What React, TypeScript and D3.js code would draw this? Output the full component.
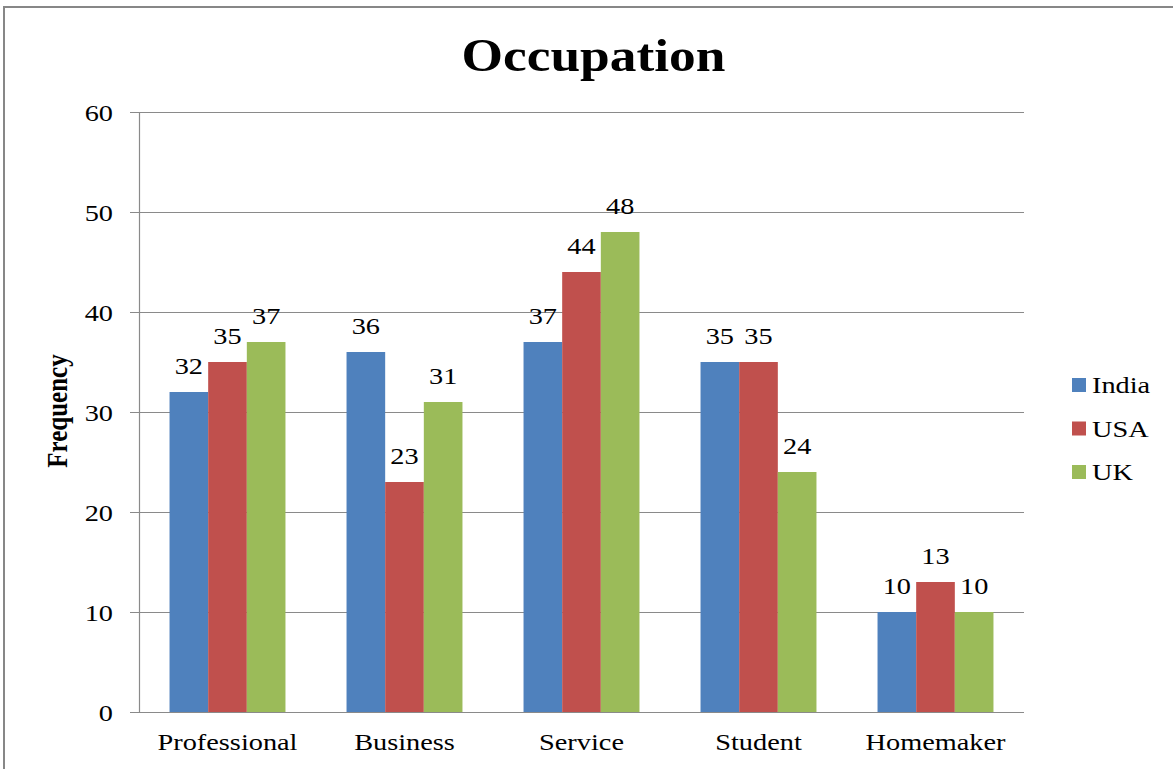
import React from "react";
import * as d3 from "d3";

const categories = ["Professional", "Business", "Service", "Student", "Homemaker"];
const seriesNames = ["India", "USA", "UK"];
const india = [32, 36, 37, 35, 10];
const usa = [35, 23, 44, 35, 13];
const uk = [37, 31, 48, 24, 10];
const yTicks = [0, 10, 20, 30, 40, 50, 60];
const colors = ["#4F81BD", "#C0504D", "#9BBB59"];
const title = "Occupation";
const yLabel = "Frequency";

const W = 1173;
const H = 769;
const SX = 1.18;
const FONT = "'Liberation Serif', 'Times New Roman', serif";

function T(props: {
  x: number;
  y: number;
  size: number;
  anchor?: string;
  bold?: boolean;
  rotate?: number;
  sx?: number;
  children: React.ReactNode;
}) {
  const { x, y, size, anchor = "middle", bold = false, rotate = 0, sx = SX } = props;
  return (
    <text
      transform={`translate(${x},${y}) scale(${sx},1)${rotate ? ` rotate(${rotate})` : ""}`}
      textAnchor={anchor}
      fontFamily={FONT}
      fontSize={size}
      fontWeight={bold ? "bold" : "normal"}
      fill="#000"
    >
      {props.children}
    </text>
  );
}

export default function App() {
  const left = 139;
  const right = 1024;
  const top = 112;
  const bottom = 712;
  const data = [india, usa, uk];

  const x0 = d3.scaleBand<string>().domain(categories).range([left, right]).padding(0);
  const x1 = d3
    .scaleBand<string>()
    .domain(seriesNames)
    .range([0, x0.bandwidth()])
    .paddingInner(0)
    .paddingOuter(0.79);
  const y = d3.scaleLinear().domain([0, 60]).range([bottom, top]);

  return (
    <svg
      width={W}
      height={H}
      style={{ position: "fixed", left: 0, top: 0, background: "#fff" }}
    >
      <rect x={0} y={0} width={W} height={H} fill="#fff" />
      <rect x={4} y={7} width={W + 20} height={H + 20} fill="none" stroke="#878787" strokeWidth={2} />

      {/* gridlines */}
      {yTicks.map((t) => (
        <line
          key={"g" + t}
          x1={left - 9}
          x2={right}
          y1={Math.round(y(t)) + 0.5}
          y2={Math.round(y(t)) + 0.5}
          stroke="#8a8a8a"
          strokeWidth={1.2}
        />
      ))}
      {/* y axis line */}
      <line x1={left + 0.5} x2={left + 0.5} y1={top} y2={bottom} stroke="#8a8a8a" strokeWidth={1.2} />

      {/* bars */}
      {categories.map((c, ci) =>
        seriesNames.map((s, si) => {
          const v = data[si][ci];
          const bx = (x0(c) as number) + (x1(s) as number);
          return (
            <rect
              key={c + s}
              x={bx}
              y={y(v)}
              width={x1.bandwidth()}
              height={y(0) - y(v)}
              fill={colors[si]}
            />
          );
        })
      )}
      {/* x axis line over bars */}
      <line x1={left} x2={right} y1={bottom + 0.5} y2={bottom + 0.5} stroke="#8a8a8a" strokeWidth={1.2} />

      {/* data labels */}
      {categories.map((c, ci) =>
        seriesNames.map((s, si) => {
          const v = data[si][ci];
          const cx = (x0(c) as number) + (x1(s) as number) + x1.bandwidth() / 2;
          return (
            <T key={"l" + c + s} x={cx} y={y(v) - 18} size={24}>
              {v}
            </T>
          );
        })
      )}

      {/* y tick labels */}
      {yTicks.map((t) => (
        <T key={"t" + t} x={113} y={y(t) + 9} size={24} anchor="end">
          {t}
        </T>
      ))}

      {/* category labels */}
      {categories.map((c) => (
        <T key={"c" + c} x={(x0(c) as number) + x0.bandwidth() / 2} y={750} size={24}>
          {c}
        </T>
      ))}

      {/* title */}
      <T x={593.5} y={71} size={46} bold sx={1.16}>
        {title}
      </T>

      {/* y axis title */}
      <T x={67} y={411} size={25} bold rotate={-90}>
        {yLabel}
      </T>

      {/* legend */}
      {seriesNames.map((s, i) => (
        <g key={"lg" + s}>
          <rect x={1072} y={378 + i * 43.5} width={14} height={14} fill={colors[i]} />
          <T x={1092} y={393 + i * 43.5} size={24} anchor="start">
            {s}
          </T>
        </g>
      ))}
    </svg>
  );
}
